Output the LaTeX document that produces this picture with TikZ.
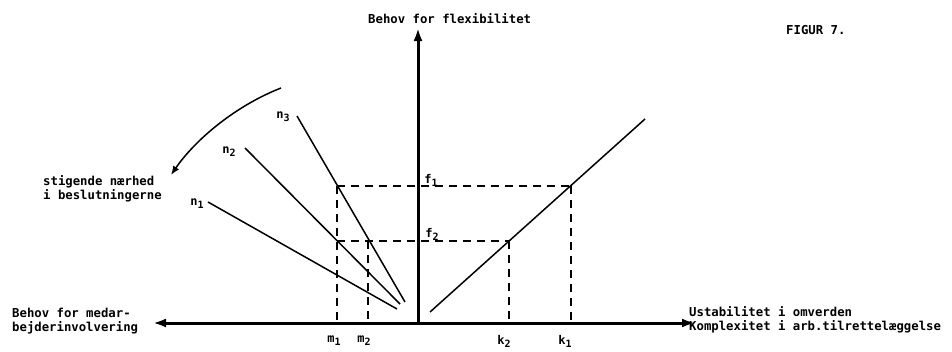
\documentclass[tikz,border=0pt]{standalone}
\usepackage{fontspec}
\setmonofont{DejaVu Sans Mono}
\usetikzlibrary{arrows.meta}
\newcommand{\sbs}[2]{#1\raisebox{-3pt}{\fontsize{10}{10}\selectfont #2}}
\begin{document}
\begin{tikzpicture}[x=1pt,y=-1pt,
  txt/.style={font=\ttfamily\bfseries\fontsize{12.3}{14}\selectfont, inner sep=0pt},
  lbl/.style={font=\ttfamily\bfseries\fontsize{12}{13}\selectfont, inner sep=0pt},
  axis/.style={line width=3pt, -{Latex[length=13pt,width=9pt]}},
  dsh/.style={line width=2pt, dash pattern=on 8pt off 6pt},
  ln/.style={line width=1.5pt}]
\useasboundingbox (0,0) rectangle (952,351);
% axes
\coordinate (O) at (418,323);
\coordinate (top) at (418,28);
\coordinate (left) at (153,323);
\coordinate (right) at (695,323);
\draw[axis] (O) -- (top);
\draw[axis] (O) -- (left);
\draw[axis] (O) -- (right);
% key points
\coordinate (m1f1) at (337,186);
\coordinate (m1f2) at (337,241);
\coordinate (m2f2) at (368,241);
\coordinate (k1f1) at (571,186);
\coordinate (k2f2) at (509,241);
\coordinate (m1) at (337,323);
\coordinate (m2) at (368,323);
\coordinate (k1) at (571,323);
\coordinate (k2) at (509,323);
% dashed
\draw[dsh] (m1f1) -- (k1f1);
\draw[dsh] (m1f2) -- (k2f2);
\draw[dsh] (m1f1) -- (m1);
\draw[dsh] (m2f2) -- (m2);
\draw[dsh] (k1f1) -- (k1);
\draw[dsh] (k2f2) -- (k2);
% right line
\coordinate (r0) at (430,312);
\coordinate (r1) at (645,119);
\draw[ln] (r0) -- (r1);
% n lines
\coordinate (n3a) at (297,116);
\coordinate (n3b) at (405,302);
\coordinate (n2a) at (245,148);
\coordinate (n2b) at (400,304);
\coordinate (n1a) at (208,202);
\coordinate (n1b) at (397,309);
\draw[ln] (n3a) -- (n3b);
\draw[ln] (n2a) -- (n2b);
\draw[ln] (n1a) -- (n1b);
% curved arrow
\coordinate (ca) at (281,88);
\coordinate (cb) at (171,175);
\draw[line width=1.5pt, -{Latex[length=9pt,width=7pt]}] (ca) .. controls (235,106) and (195,140) .. (cb);
% labels
\node[lbl] (ln3) at (283,117) {\sbs{n}{3}};
\node[lbl] (ln2) at (229,152) {\sbs{n}{2}};
\node[lbl] (ln1) at (197,204) {\sbs{n}{1}};
\node[lbl] (lf1) at (431,180) {\sbs{f}{1}};
\node[lbl] (lf2) at (432,234) {\sbs{f}{2}};
\node[lbl] (lm1) at (334,341) {\sbs{m}{1}};
\node[lbl] (lm2) at (364,341) {\sbs{m}{2}};
\node[lbl] (lk2) at (504,341) {\sbs{k}{2}};
\node[lbl] (lk1) at (565,341) {\sbs{k}{1}};
\node[txt, anchor=west] (ty) at (368,19) {Behov for flexibilitet};
\node[txt, anchor=west] (fig) at (786,30) {FIGUR 7.};
\node[txt, anchor=west, align=left] (st) at (43,189) {stigende nærhed\\i beslutningerne};
\node[txt, anchor=west, align=left] (bm) at (12,321) {Behov for medar-\\bejderinvolvering};
\node[txt, anchor=west, align=left] (us) at (689,320) {Ustabilitet i omverden\\Komplexitet i arb.tilrettelæggelse};
\end{tikzpicture}
\end{document}
